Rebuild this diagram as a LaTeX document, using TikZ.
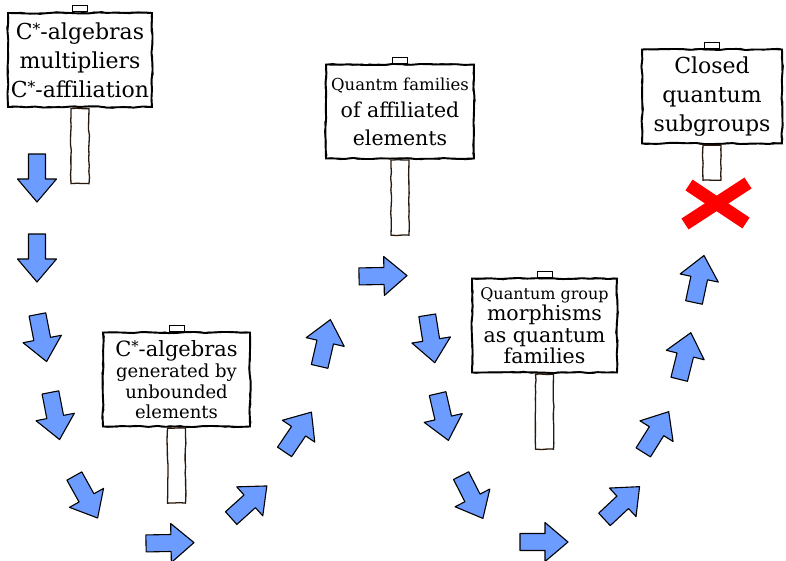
\documentclass[tikz,border=0pt]{standalone}
\usepackage{fontspec}
\setmainfont{DejaVu Serif}
\usetikzlibrary{positioning,decorations.pathmorphing}
\definecolor{arrowblue}{RGB}{108,156,255}
\definecolor{crossred}{RGB}{255,0,0}
\definecolor{postbrown}{RGB}{40,25,15}
\newcommand{\Cst}{C\raisebox{.22em}{\scalebox{.7}{*}}}
\tikzset{
    board/.style={
           draw=black, line width=1.9pt,
           fill=white,
           decorate, decoration={random steps,segment length=9pt,amplitude=.6pt},
           postaction={draw, line width=.9pt, decorate,
                       decoration={random steps,segment length=5pt,amplitude=1.1pt}},
           minimum width=144pt, minimum height=94pt,
           inner sep=0pt, align=center,
           font=\fontsize{22}{29}\selectfont},
    tab/.style={
           draw=black, line width=1pt, fill=white,
           minimum width=15pt, minimum height=6pt,
           inner sep=0pt},
    post/.style={
           draw=postbrown, line width=1.3pt,
           decorate, decoration={random steps,segment length=6pt,amplitude=.5pt},
           minimum width=18pt, minimum height=75pt,
           inner sep=0pt},
    blockarrow/.pic={
           \draw[fill=arrowblue, draw=black, line width=1.1pt, line join=round]
               (-24,-8.5) -- (1,-8.5) -- (1,-19.5) -- (24,0) -- (1,19.5) -- (1,8.5) -- (-24,8.5) -- cycle;},
    cross/.style={
           draw=crossred, line width=13pt}
}
\begin{document}
\begin{tikzpicture}[x=1pt, y=-1pt]
          \useasboundingbox (0,0) rectangle (786,560);
          \node[board](multipliers) at (80,60) {\Cst-algebras\\multipliers\\\Cst-affiliation};
          \node[post, below=0pt of multipliers](multpost) {};
          \node[tab, above=0pt of multipliers](multtab) {};
          \node[board, minimum width=148pt, font=\fontsize{20.5}{27.5}\selectfont](families) at (400,111.5) {{\fontsize{16.5}{20}\selectfont Quantm families}\\of affiliated\\elements};
          \node[post, below=0pt of families](fampost) {};
          \node[tab, above=0pt of families](famtab) {};
          \node[board, minimum width=140pt](subgroups) at (712,96.5) {Closed\\quantum\\subgroups};
          \node[post, below=0pt of subgroups, minimum height=35pt](subpost) {};
          \node[tab, above=0pt of subgroups](subtab) {};
          \node[board, minimum width=147pt, font=\fontsize{18}{20.5}\selectfont](unbounded) at (176.5,379.5) {{\fontsize{21}{24}\selectfont \Cst-algebras}\\[1pt]generated by\\unbounded\\elements};
          \node[post, below=0pt of unbounded](unbpost) {};
          \node[tab, above=0pt of unbounded](unbtab) {};
          \node[board, minimum width=145pt, font=\fontsize{20.5}{21.5}\selectfont](morphisms) at (544.5,325.5) {{\fontsize{16}{20}\selectfont Quantum group}\\morphisms\\as quantum\\families};
          \node[post, below=0pt of morphisms](morpost) {};
          \node[tab, above=0pt of morphisms](mortab) {};
          \pic (ar1) [rotate=-90] at (37,178) {blockarrow};
          \pic (ar2) [rotate=-90] at (37,258) {blockarrow};
          \pic (ar3) [rotate=-79] at (42,338) {blockarrow};
          \pic (ar4) [rotate=-79] at (55,416) {blockarrow};
          \pic (ar5) [rotate=-61] at (86,497) {blockarrow};
          \pic (ar6) [rotate=1] at (170,543) {blockarrow};
          \pic (ar7) [rotate=42] at (249,502) {blockarrow};
          \pic (ar8) [rotate=56] at (298,432) {blockarrow};
          \pic (ar9) [rotate=77] at (325,343) {blockarrow};
          \pic (ar10) [rotate=1] at (383,276) {blockarrow};
          \pic (ar11) [rotate=-81] at (431,339) {blockarrow};
          \pic (ar12) [rotate=-77] at (443,417) {blockarrow};
          \pic (ar13) [rotate=-63] at (472,497) {blockarrow};
          \pic (ar14) [rotate=0] at (544,542) {blockarrow};
          \pic (ar15) [rotate=43] at (622,503) {blockarrow};
          \pic (ar16) [rotate=58] at (656,432) {blockarrow};
          \pic (ar17) [rotate=76] at (685,356) {blockarrow};
          \pic (ar18) [rotate=78] at (699,279) {blockarrow};
          \coordinate (xa) at (689,185);
          \coordinate (xb) at (746,223);
          \coordinate (xc) at (748,183);
          \coordinate (xd) at (685,224);
          \draw[cross] (xa) -- (xb);
          \draw[cross] (xc) -- (xd);
\end{tikzpicture}
\end{document}
